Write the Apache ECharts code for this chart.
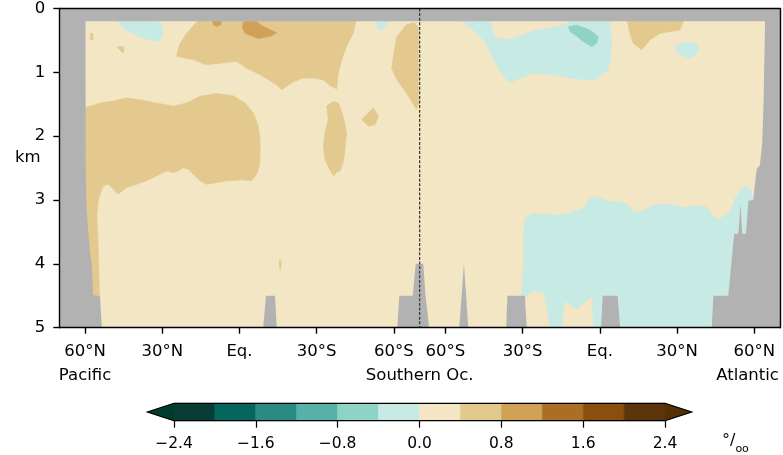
<!DOCTYPE html>
<html><head><meta charset="utf-8">
<script src="https://cdn.jsdelivr.net/npm/echarts@6/dist/echarts.min.js"></script>
<style>html,body{margin:0;padding:0;background:#fff}#c{width:783px;height:455px}</style>
</head><body><div id="c"></div>
<script>
// ---------- colour scale (per mille) ----------
const levels = [-2.4,-2.0,-1.6,-1.2,-0.8,-0.4,0.0,0.4,0.8,1.2,1.6,2.0,2.4];
const binColors = ['#073d33','#05665d','#2a8b83','#57b1a8','#8fd3c6','#c8eae4','#f2e6c4','#e3c98e','#d0a257','#aa6f24','#8b4f0d','#5c360a'];
const extendColors = ['#003c30','#543005'];
const colorbarTicks = [-2.4,-1.6,-0.8,0.0,0.8,1.6,2.4];

// ---------- axes ----------
// section coordinate: degrees of latitude along the path 70N Pacific (0) -> 70S (140) -> 70N Atlantic (280)
const sectionRange = [0, 280];
const depthRange = [0, 5];
const depthTicks = [0,1,2,3,4,5];
const sectionTicks = [10, 40, 70, 100, 130, 150, 180, 210, 240, 270];
const sectionTickLabels = ['60°N','30°N','Eq.','30°S','60°S','60°S','30°S','Eq.','30°N','60°N'];
const basinLabels = ['Pacific','Southern Oc.','Atlantic'];
const basinAnchors = [10, 140, 267.4];
const dividerSection = 140;
const surfaceMaskDepth = 0.2;

// ---------- filled contour regions: [section, depth km] ----------
const fieldBackground = [[0,0],[280,0],[280,5.1],[0,5.1]];
const pacUpperWarm = [[54.7,0.15],[115.5,0.15],[114.2,0.389],[111.6,0.597],[109.7,0.804],[108.4,1.012],[107.8,1.261],[105.2,1.209],[102.6,1.121],[98.7,1.09],[94.8,1.09],[90.9,1.147],[86.4,1.272],[84.4,1.194],[81.2,1.116],[78,1.038],[72.8,0.934],[68.9,0.83],[62.4,0.856],[57.2,0.882],[52.1,0.804],[45.6,0.752],[45.6,0.726],[46.9,0.545],[49.5,0.389]];
const pacUpperCoreA = [[59.6,0.17],[63.1,0.17],[62.6,0.26],[61,0.28],[59.8,0.25]];
const pacUpperCoreB = [[71,0.285],[71.7,0.2],[76.5,0.2],[78.7,0.27],[84.5,0.38],[81.9,0.44],[77.2,0.47],[72.1,0.39]];
const pacSouthWarm = [[134.9,0.25],[138,0.22],[139.5,0.3],[139.5,1.5],[138.8,1.583],[134.9,1.324],[131.1,1.116],[129.1,0.934],[129.8,0.752],[131.1,0.441]];
const pacSouthCool = [[123.3,0.15],[129.1,0.15],[127,0.27],[124.6,0.36],[123.5,0.3]];
const pacNorthCool = [[21.6,0.15],[38,0.15],[40.3,0.3],[40,0.42],[38.3,0.52],[34.5,0.49],[29.4,0.41],[25.5,0.33]];
const pacNorthSpeckA = [[12,0.39],[13.1,0.39],[13.1,0.49],[12,0.49]];
const pacNorthSpeckB = [[22.3,0.6],[25.1,0.6],[24.8,0.7]];
const pacDeepWarm = [[9,1.57],[15.8,1.48],[21,1.45],[26.2,1.40],[31.3,1.43],[37.8,1.48],[44.3,1.53],[49.5,1.48],[54.7,1.375],[61.1,1.33],[67.6,1.365],[72.1,1.48],[75.4,1.635],[77.3,1.843],[78,2.05],[78,2.3],[77.7,2.466],[76.7,2.596],[74.7,2.70],[70.9,2.684],[65,2.70],[59.8,2.736],[57.2,2.752],[54.7,2.70],[52.1,2.596],[50.1,2.518],[48.2,2.492],[46.2,2.544],[44.3,2.57],[41.7,2.544],[39.1,2.596],[33.9,2.70],[30.1,2.752],[26.2,2.803],[22.9,2.907],[21,2.83],[19,2.752],[17.1,2.778],[15.2,2.985],[14.6,3.245],[15,3.6],[15.3,4.0],[15.6,4.5],[9,4.5]];
const pacRidgeWarm = [[106.5,1.453],[108.4,1.479],[110.3,1.687],[111.6,1.946],[111,2.206],[110.3,2.414],[109.1,2.544],[107.8,2.56],[106.7,2.622],[105.8,2.57],[105,2.52],[103.2,2.362],[102.6,2.154],[103.2,1.946],[104.5,1.739],[103.9,1.531]];
const pacBlobWarm = [[122,1.557],[124,1.687],[122.7,1.817],[120.1,1.843],[117.5,1.739],[120.1,1.635]];
const pacDeepSpeck = [[85.7,3.93],[86.3,4.0],[85.8,4.1],[85.4,4.0]];
const atlUpperCool = [[155,0.15],[214.6,0.15],[213.9,0.233],[214.6,0.493],[214.2,0.752],[213.3,0.96],[210.7,1.038],[207.5,1.126],[204.9,1.116],[198.4,1.09],[191.9,1.038],[184.2,1.012],[179,1.09],[175.7,1.157],[173.8,1.116],[170.6,0.934],[168,0.752],[166,0.545],[160.8,0.337]];
const atlUpperNeutral = [[167.3,0.15],[197.8,0.15],[197.1,0.233],[191.9,0.285],[184.2,0.337],[179,0.42],[173.8,0.48],[169.3,0.441]];
const atlUpperCore = [[197.8,0.285],[201,0.259],[206.2,0.337],[209.4,0.441],[208.8,0.545],[206.8,0.597],[203.6,0.519],[200.4,0.415],[198.4,0.363]];
const atlUpperWarm = [[220.4,0.15],[243.1,0.15],[241.1,0.337],[233.4,0.389],[229.5,0.493],[226.2,0.649],[223,0.545],[221.7,0.389]];
const atlUpperCool2 = [[239.2,0.597],[242.4,0.534],[247.6,0.545],[248.6,0.623],[247,0.726],[245,0.778],[242.4,0.742],[239.8,0.675]];
const atlDeepCool = [[180.9,3.29],[183.5,3.22],[186.7,3.21],[190,3.22],[194.6,3.24],[199.7,3.19],[203.6,3.12],[206.2,2.98],[208.1,2.94],[210.7,2.98],[212.7,3.01],[215.2,3.04],[217.8,3.03],[220.4,3.06],[222.4,3.14],[223.7,3.19],[225.6,3.19],[230.8,3.09],[234.7,3.06],[238.5,3.08],[243.7,3.12],[247.6,3.09],[250.9,3.09],[252.8,3.19],[254.8,3.29],[256.7,3.29],[258.6,3.24],[260.6,3.19],[262.5,2.98],[264.4,2.86],[266.4,2.78],[268.3,2.83],[269.6,2.98],[271,3.0],[271,5.1],[179.6,5.1],[179.6,4.44],[180.3,4.024],[180.5,3.504]];
const atlDeepPocketA = [[179.6,4.52],[181.6,4.52],[184.8,4.41],[186.1,4.465],[188,4.44],[189.3,4.7],[190.6,5.1],[179.6,5.1]];
const atlDeepPocketB = [[195.2,5.1],[196.5,4.595],[198.4,4.647],[201,4.725],[202.3,4.673],[204.9,4.595],[206.8,4.517],[207.5,5.1]];

// [outline, anomaly value in per mille]
const fieldRegions = [
  [fieldBackground, 0.2],
  [pacUpperWarm, 0.6], [pacUpperCoreA, 1.0], [pacUpperCoreB, 1.0],
  [pacSouthWarm, 0.6], [pacSouthCool, -0.2], [pacNorthCool, -0.2],
  [pacNorthSpeckA, 0.6], [pacNorthSpeckB, 0.6],
  [pacDeepWarm, 0.6], [pacRidgeWarm, 0.6], [pacBlobWarm, 0.6], [pacDeepSpeck, 0.6],
  [atlUpperCool, -0.2], [atlUpperNeutral, 0.2], [atlUpperCore, -0.6],
  [atlUpperWarm, 0.6], [atlUpperCool2, -0.2],
  [atlDeepCool, -0.2], [atlDeepPocketA, 0.2], [atlDeepPocketB, 0.2]
];

// sea floor / land along the section: [section, bottom depth km]
const sectionBottom = [[0,0],[10.2,0],[10.25,2.5],[10.6,3.14],[11.3,3.5],[11.9,3.82],[12.6,4.02],[13.2,4.49],[15.8,4.5],[16.5,5],
  [79.2,5],[80.3,4.5],[83.8,4.5],[84.5,5],
  [131.3,5],[132.1,4.5],[137.3,4.5],[138.5,4.0],[141.4,4.0],[142.3,4.5],[142.9,4.5],[143.7,5],
  [155.4,5],[157.2,4.0],[157.5,4.0],[158.9,5],
  [173.6,5],[174.1,4.5],[180.9,4.5],[181.6,5],
  [210.5,5],[211.1,4.5],[216.9,4.5],[217.9,5],
  [253.5,5],[254.1,4.5],[259.9,4.5],[262.2,3.53],[263.8,3.53],[264.7,3.06],[265.3,3.53],[266.8,3.53],[267.7,3.01],[269.6,3.0],[270.9,2.52],[272.2,2.45],[273.1,2.1],[273.6,1.5],[274.2,0.2],[274.3,0],[280,0]];

const landColor = '#b2b2b2';
const FONT = 'DejaVu Sans';

function colorFor(v){
  if (v < levels[0]) return extendColors[0];
  for (let i = 0; i < levels.length - 1; i++) if (v >= levels[i] && v < levels[i+1]) return binColors[i];
  return extendColors[1];
}

const chart = echarts.init(document.getElementById('c'), null, {renderer:'canvas'});
const txt = {color:'#000', fontFamily:FONT, fontSize:16.5};
const cbTxt = {color:'#000', fontFamily:FONT, fontSize:15.5};
const blackLine = {lineStyle:{color:'#000', width:1.4}};
const extendFrac = 0.26;

chart.setOption({
  animation:false,
  backgroundColor:'#fff',
  grid:[
    {left:59.3, top:6.7, width:720.7, height:321},
    {left:174, top:403.3, width:491, height:17.4}
  ],
  xAxis:[
    {gridIndex:0, type:'value', min:sectionRange[0], max:sectionRange[1], position:'bottom', z:10,
     axisLine:Object.assign({show:true, onZero:false}, blackLine),
     axisTick:{show:true, customValues:sectionTicks, length:6, lineStyle:{color:'#000', width:1.4}},
     axisLabel:Object.assign({customValues:sectionTicks, margin:16,
       formatter:v=>sectionTickLabels[sectionTicks.indexOf(v)]}, txt),
     splitLine:{show:false}},
    {gridIndex:0, type:'value', min:sectionRange[0], max:sectionRange[1], position:'bottom',
     axisLine:{show:false}, axisTick:{show:false}, splitLine:{show:false},
     axisLabel:Object.assign({customValues:basinAnchors, margin:40,
       formatter:v=>basinLabels[basinAnchors.indexOf(v)]}, txt)},
    {gridIndex:0, type:'value', min:sectionRange[0], max:sectionRange[1], position:'top', z:10,
     axisLine:Object.assign({show:true, onZero:false}, blackLine), axisTick:{show:false}, axisLabel:{show:false}, splitLine:{show:false}},
    {gridIndex:1, type:'value', min:levels[0], max:levels[levels.length-1], position:'bottom', z:10,
     axisLine:{show:true, onZero:false, lineStyle:{color:'#000', width:1.2}},
     axisTick:{show:true, customValues:colorbarTicks, length:7, lineStyle:{color:'#000', width:1.2}},
     axisLabel:Object.assign({customValues:colorbarTicks, margin:15,
       formatter:v=>{const r=Math.round(v*10)/10; return (r<0?'\u2212':'')+Math.abs(r).toFixed(1);}}, cbTxt),
     splitLine:{show:false}}
  ],
  yAxis:[
    {gridIndex:0, type:'value', min:depthRange[0], max:depthRange[1], interval:1, inverse:true, z:10,
     axisLine:Object.assign({show:true, onZero:false}, blackLine),
     axisTick:{show:true, length:6, lineStyle:{color:'#000', width:1.4}},
     axisLabel:Object.assign({margin:14, formatter:v=>depthTicks.includes(v)?String(v):''}, txt),
     splitLine:{show:false}},
    {gridIndex:0, type:'value', min:depthRange[0], max:depthRange[1], inverse:true, position:'right', z:10,
     axisLine:Object.assign({show:true, onZero:false}, blackLine), axisTick:{show:false}, axisLabel:{show:false}, splitLine:{show:false}},
    {gridIndex:1, type:'value', min:0, max:1, show:false}
  ],
  graphic:[
    {type:'text', left:15, top:149, style:{text:'km', fill:'#000', font:'16.5px "DejaVu Sans"'}},
    {type:'text', left:722, top:433, style:{text:'{a|°/}{b|oo}', fill:'#000',
      rich:{a:{fontSize:16, fontFamily:FONT, lineHeight:22, verticalAlign:'top', fill:'#000'},
            b:{fontSize:11, fontFamily:FONT, lineHeight:22, verticalAlign:'bottom', fill:'#000'}}}}
  ],
  series:[
    {type:'custom', xAxisIndex:0, yAxisIndex:0, clip:true, z:1, silent:true,
     data: fieldRegions.map((r,i)=>[r[0][0][0], r[0][0][1], r[1], i]),
     encode:{x:0, y:1},
     renderItem:(params, api)=>{
       const reg = fieldRegions[params.dataIndex];
       const c = colorFor(reg[1]);
       return {type:'polygon', shape:{points:reg[0].map(p=>api.coord(p))}, style:{fill:c, stroke:c, lineWidth:0.6}};
     }},
    {type:'line', xAxisIndex:0, yAxisIndex:0, data:sectionBottom, symbol:'none', silent:true, z:3,
     lineStyle:{width:0, color:landColor}, areaStyle:{color:landColor, opacity:1, origin:'end'}},
    {type:'line', xAxisIndex:0, yAxisIndex:0, data:[[sectionRange[0],surfaceMaskDepth],[sectionRange[1],surfaceMaskDepth]], symbol:'none', silent:true, z:3,
     lineStyle:{width:0, color:landColor}, areaStyle:{color:landColor, opacity:1, origin:'start'}},
    {type:'line', xAxisIndex:0, yAxisIndex:0, data:[[dividerSection,depthRange[0]],[dividerSection,depthRange[1]]], symbol:'none', silent:true, z:4,
     lineStyle:{width:1.2, color:'#333', type:[3,1.6]}},
    // colorbar bins
    {type:'custom', xAxisIndex:3, yAxisIndex:2, silent:true, z:2,
     data: levels.slice(0,-1).map((lo,i)=>[lo, levels[i+1], i]),
     encode:{x:[0,1]},
     renderItem:(params, api)=>{
       const a = api.coord([api.value(0), 1]), b = api.coord([api.value(1), 0]);
       const c = binColors[api.value(2)];
       return {type:'rect', shape:{x:a[0], y:a[1], width:b[0]-a[0], height:b[1]-a[1]}, style:{fill:c, stroke:c, lineWidth:0.5}};
     }},
    // colorbar extensions + outline
    {type:'custom', xAxisIndex:3, yAxisIndex:2, silent:true, z:3, clip:false,
     data:[[levels[0], -1],[levels[levels.length-1], 1]],
     encode:{x:0},
     renderItem:(params, api)=>{
       const edge = api.value(0), dir = api.value(1);
       const pts = [api.coord([edge,1]), api.coord([edge + dir*extendFrac, 0.5]), api.coord([edge,0])];
       const c = extendColors[dir < 0 ? 0 : 1];
       return {type:'polygon', shape:{points:pts}, style:{fill:c, stroke:c, lineWidth:0.5}};
     }},
    {type:'custom', xAxisIndex:3, yAxisIndex:2, silent:true, z:4, clip:false,
     data:[[levels[0], levels[levels.length-1]]],
     encode:{x:[0,1]},
     renderItem:(params, api)=>{
       const lo = api.value(0), hi = api.value(1);
       const pts = [[lo-extendFrac,0.5],[lo,1],[hi,1],[hi+extendFrac,0.5],[hi,0],[lo,0]].map(p=>api.coord(p));
       return {type:'polygon', shape:{points:pts}, style:{fill:null, stroke:'#000', lineWidth:1.2}};
     }}
  ]
});
</script></body></html>
